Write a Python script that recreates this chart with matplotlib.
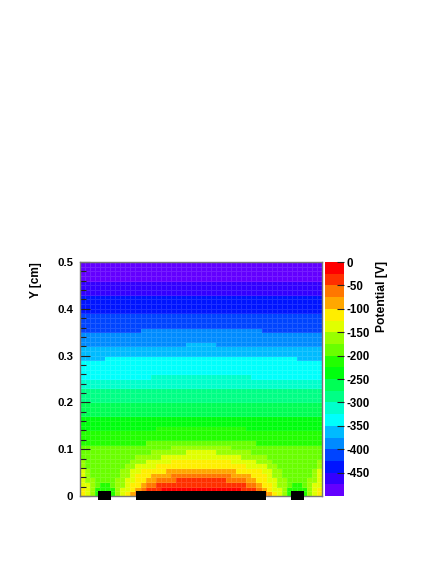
import matplotlib
matplotlib.use("Agg")
import matplotlib.pyplot as plt
import numpy as np
from matplotlib.colors import ListedColormap, BoundaryNorm
from matplotlib.patches import Rectangle
from matplotlib.ticker import MultipleLocator

plt.rcParams['font.family'] = ['Liberation Sans', 'DejaVu Sans']
plt.rcParams['font.weight'] = 'bold'

# potential levels (V) and the colour of each band
levels = [-500, -475, -450, -425, -400, -375, -350, -325, -300, -275, -250,
          -225, -200, -175, -150, -125, -100, -75, -50, -25, 0]
level_colors = ['#6300FF', '#3300FF', '#0014FF', '#0044FF', '#008BFF',
                '#00BBFF', '#00FFFC', '#00FFCC', '#00FF85', '#00FF55',
                '#00FF0E', '#22FF00', '#69FF00', '#99FF00', '#E0FF00',
                '#FFEE00', '#FFA700', '#FF7700', '#FF3000', '#FF0000']

# band of each cell, 'a' = -500..-475 V ... 't' = -25..0 V
# left half of the cell only (right half is its mirror), rows from y=0.5 down to y=0
rows_left = [
    "aaaaaaaaaaaaaaaaaaaaaaaa",
    "aaaaaaaaaaaaaaaaaaaaaaaa",
    "aaaaaaaaaaaaaaaaaaaaaaaa",
    "aaaaaaaaaaaaaaaaaaaaaaaa",
    "bbbbbbbbbbbbbbbbbbbbbbbb",
    "bbbbbbbbbbbbbbbbbbbbbbbb",
    "bbbbbbbbbbbbbbbbbbbbbbbb",
    "cccccccccccccccccccccccc",
    "cccccccccccccccccccccccc",
    "cccccccccccccccccccccccc",
    "cccccccccccccccccccccccc",
    "dddddddddddddddddddddddd",
    "dddddddddddddddddddddddd",
    "dddddddddddddddddddddddd",
    "ddddddddddddeeeeeeeeeeee",
    "eeeeeeeeeeeeeeeeeeeeeeee",
    "eeeeeeeeeeeeeeeeeeeeeeee",
    "eeeeeeeeeeeeeeeeeeeeefff",
    "ffffffffffffffffffffffff",
    "ffffffffffffffffffffffff",
    "fffffggggggggggggggggggg",
    "gggggggggggggggggggggggg",
    "gggggggggggggggggggggggg",
    "gggggggggggggggggggggggg",
    "gggggggggggggghhhhhhhhhh",
    "hhhhhhhhhhhhhhhhhhhhhhhh",
    "hhhhhhhhhhhhhhhhhhhhhhhh",
    "iiiiiiiiiiiiiiiiiiiiiiii",
    "iiiiiiiiiiiiiiiiiiiiiiii",
    "iiiiiiiiiiiiiiiiiiiiiiii",
    "jjjjjjjjjjjjjjjjjjjjjjjj",
    "jjjjjjjjjjjjjjjjjjjjjjjj",
    "jjjjjjjjjjjjjjjjjjjjjjjj",
    "kkkkkkkkkkkkkkkkkkkkkkkk",
    "kkkkkkkkkkkkkkkkkkkkkkkk",
    "kkkkkkkkkkkkkkklllllllll",
    "llllllllllllllllllllllll",
    "llllllllllllllllllllllll",
    "lllllllllllllmmmmmmmmmmm",
    "mmmmmmmmmmmmmmmmmmnnnnnn",
    "mmmmmmmmmmmmmmnnnnnnnooo",
    "mmmmmmmmmmmnnnnnoooooooo",
    "nmmmmmmmmmnnnooooopppppp",
    "nmmmmmmmmnnooooppppppppp",
    "onmmmmmmnnoopppppqqqqqqq",
    "onmmmmmmnnopppqqqqrrrrrr",
    "onnmmmmnnooppqqrrrrsssss",
    "oonmllmnnoppqrrsssssssss",
    "ponllllnoopqrssstttttttt",
    "ponllllnopqrsttttttttttt",
]

y_ticks = [0, 0.1, 0.2, 0.3, 0.4, 0.5]
y_labels = ['0', '0.1', '0.2', '0.3', '0.4', '0.5']
cb_ticks = [0, -50, -100, -150, -200, -250, -300, -350, -400, -450]
cb_labels = ['0', '-50', '-100', '-150', '-200', '-250', '-300', '-350', '-400', '-450']

# electrodes (cm) drawn under the bottom edge
elec_x0 = [-0.205, -0.128, 0.179]
elec_x1 = [-0.179, 0.128, 0.205]
elec_y0, elec_y1 = -0.0085, 0.0107

band = np.array([[ord(ch) - ord('a') for ch in row + row[::-1]] for row in rows_left])
band = np.flipud(band)
pot = levels[0] + 25 * band + 12.5

ny, nx = pot.shape
xe = np.linspace(-0.24, 0.24, nx + 1)
ye = np.linspace(0, 0.5, ny + 1)

cmap = ListedColormap(level_colors)
norm = BoundaryNorm(levels, cmap.N)

fig = plt.figure(figsize=(4.36, 5.64), dpi=100)
ax = fig.add_axes([80 / 436, 1 - 496 / 564, 242 / 436, 234 / 564])
mesh = ax.pcolormesh(xe, ye, pot, cmap=cmap, norm=norm,
                     edgecolors=(1, 1, 1, 0.12), linewidth=0.4)
ax.set_xlim(-0.24, 0.24)
ax.set_ylim(0, 0.5)
ax.set_xticks([])
ax.set_yticks(y_ticks)
ax.set_yticklabels(y_labels)
ax.yaxis.set_minor_locator(MultipleLocator(0.02))
ax.tick_params(axis='y', which='major', direction='in', length=7, width=0.8,
               pad=5, labelsize=8.2, color='#222222')
ax.tick_params(axis='y', which='minor', direction='in', length=4, width=0.8,
               color='#222222')
for s in ax.spines.values():
    s.set_color('#777777')
    s.set_linewidth(1.0)

for x0, x1 in zip(elec_x0, elec_x1):
    ax.add_patch(Rectangle((x0, elec_y0), x1 - x0, elec_y1 - elec_y0,
                           facecolor='black', edgecolor='none',
                           clip_on=False, zorder=5))

cax = fig.add_axes([325 / 436, 1 - 496 / 564, 19 / 436, 234 / 564])
cb = fig.colorbar(mesh, cax=cax, ticks=cb_ticks)
cb.ax.set_yticklabels(cb_labels)
cb.outline.set_visible(False)
cax.minorticks_off()
cax.tick_params(direction='in', length=5, width=0.8, pad=2, labelsize=8.3,
                color='#222222')

fig.text(36 / 436, 1 - 262 / 564, 'Y [cm]', rotation=90, ha='center', va='top',
         fontsize=8.6, fontweight='bold')
fig.text(382 / 436, 1 - 261 / 564, 'Potential [V]', rotation=90, ha='center',
         va='top', fontsize=8.7, fontweight='bold')

fig.savefig('out.png', dpi=100)
